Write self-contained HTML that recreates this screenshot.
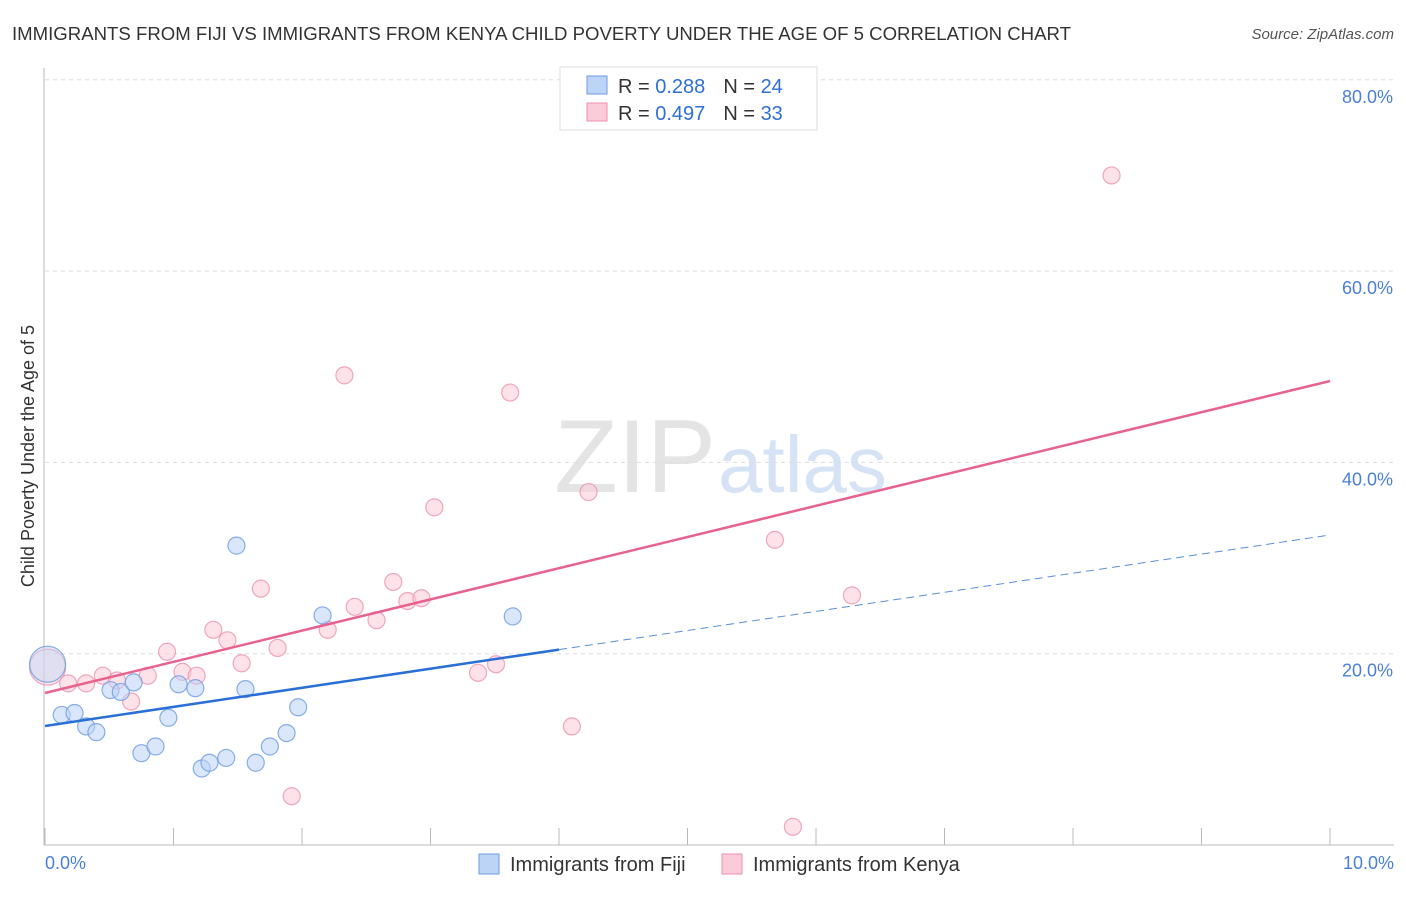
<!DOCTYPE html>
<html><head><meta charset="utf-8"><style>
body{margin:0;background:#fff;font-family:"Liberation Sans",sans-serif;}
svg text{font-family:"Liberation Sans",sans-serif;}
</style></head><body>
<svg id="c" width="1406" height="892" xmlns="http://www.w3.org/2000/svg">
<text x="12" y="40" font-size="18.6" fill="#333">IMMIGRANTS FROM FIJI VS IMMIGRANTS FROM KENYA CHILD POVERTY UNDER THE AGE OF 5 CORRELATION CHART</text>
<text x="1394" y="39" font-size="15" fill="#555" text-anchor="end" font-style="italic">Source: ZipAtlas.com</text>
<text x="716" y="492" font-size="104" fill="#e4e4e4" text-anchor="end" font-family="Liberation Serif">ZIP</text>
<text x="718" y="492" font-size="80" fill="#d6e3f5">atlas</text>
<g id="grid"></g><g id="axes"></g><g id="marks"></g>
<text transform="translate(34,456) rotate(-90)" font-size="18" fill="#333" text-anchor="middle">Child Poverty Under the Age of 5</text>
<text x="45" y="869" font-size="18" fill="#4a7fd6">0.0%</text>
<text x="1394" y="869" font-size="18" fill="#4a7fd6" text-anchor="end">10.0%</text>
<g>
<rect x="560" y="67" width="257" height="63" fill="#fff" stroke="#ddd"/>
<rect x="587" y="76" width="20" height="18" fill="#bcd4f6" stroke="#6d9be0"/>
<rect x="587" y="103" width="20" height="18" fill="#fbcbd9" stroke="#ec92ae"/>
<text x="618" y="93" font-size="20" fill="#333">R = <tspan fill="#2f6fd6">0.288</tspan><tspan dx="18">N = </tspan><tspan fill="#2f6fd6">24</tspan></text>
<text x="618" y="120" font-size="20" fill="#333">R = <tspan fill="#2f6fd6">0.497</tspan><tspan dx="18">N = </tspan><tspan fill="#2f6fd6">33</tspan></text>
</g>
<g>
<rect x="479" y="854" width="20" height="20" fill="#bcd4f6" stroke="#6d9be0"/>
<text x="510" y="871" font-size="20" fill="#333">Immigrants from Fiji</text>
<rect x="722" y="854" width="20" height="20" fill="#fbcbd9" stroke="#ec92ae"/>
<text x="753" y="871" font-size="20" fill="#333">Immigrants from Kenya</text>
</g>
</svg>
<script>
const yTicks=[20,40,60,80];
const yTickLabels=["20.0%","40.0%","60.0%","80.0%"];
const xTicks=[0,1,2,3,4,5,6,7,8,9,10];
const fijiX=[0.02,0.13,0.23,0.32,0.40,0.51,0.59,0.69,0.75,0.86,0.96,1.04,1.17,1.22,1.28,1.41,1.49,1.56,1.64,1.75,1.88,1.97,2.16,3.64];
const fijiY=[18.9,13.6,13.8,12.4,11.8,16.2,16.0,17.0,9.6,10.3,13.3,16.8,16.4,8.0,8.6,9.1,31.3,16.3,8.6,10.3,11.7,14.4,24.0,23.9];
const kenyaX=[0.02,0.18,0.32,0.45,0.56,0.67,0.80,0.95,1.07,1.18,1.31,1.42,1.53,1.68,1.81,1.92,2.20,2.33,2.41,2.58,2.71,2.82,2.93,3.03,3.37,3.51,3.62,4.10,4.23,5.68,5.82,6.28,8.30];
const kenyaY=[18.6,16.9,16.9,17.7,17.2,15.0,17.7,20.2,18.1,17.7,22.5,21.4,19.0,26.8,20.6,5.1,22.5,49.1,24.9,23.5,27.5,25.5,25.8,35.3,18.0,18.9,47.3,12.4,36.9,31.9,1.9,26.1,70.0];
const fijiTrend=[12.44,32.41];
const kenyaTrend=[15.89,48.51];
const fijiSolidEnd=4.0;
const sx=v=>45+v*128.5, sy=v=>845-v*9.565;
const NS="http://www.w3.org/2000/svg";
function mk(t,a,p){const e=document.createElementNS(NS,t);for(const k in a)e.setAttribute(k,a[k]);p.appendChild(e);return e;}
const grid=document.getElementById('grid'),axes=document.getElementById('axes'),marks=document.getElementById('marks');
yTicks.forEach((v,i)=>{
 const l=mk('line',{x1:45,x2:1394,y1:sy(v),y2:sy(v),stroke:'#ddd','stroke-dasharray':'4,4'},grid);
 
 
 const t=mk('text',{x:1393,y:sy(v)+23,'font-size':18,fill:'#4a7fd6','text-anchor':'end'},grid);
 t.textContent=yTickLabels[i];
 
 
});
const ya=mk('line',{x1:44,x2:44,y1:68,y2:845,stroke:'#bbb'},axes);


const xa=mk('line',{x1:44,x2:1394,y1:845,y2:845,stroke:'#bbb'},axes);


xTicks.forEach(v=>{
 const t=mk('line',{x1:sx(v),x2:sx(v),y1:828,y2:845,stroke:'#bbb'},axes);
 
 
});
function pts(X,Y,fill,stroke,name){
 X.forEach((x,i)=>{
  const r=i===0?18:8.5;
  const c=mk('circle',{cx:sx(x),cy:sy(Y[i]),r:r,fill:fill,'fill-opacity':i===0?0.45:0.55,stroke:stroke,'stroke-width':1.2,'stroke-opacity':0.8},marks);
  
  
 });
}
pts(kenyaX,kenyaY,'#fbcbd9','#ec92ae','kenya-point');
pts(fijiX,fijiY,'#bcd4f6','#6d9be0','fiji-point');
const fAt=x=>fijiTrend[0]+(fijiTrend[1]-fijiTrend[0])*x/10;
const l1=mk('line',{x1:sx(0),y1:sy(fAt(0)),x2:sx(fijiSolidEnd),y2:sy(fAt(fijiSolidEnd)),stroke:'#2a6fd6','stroke-width':2.5},marks);


const l2=mk('line',{x1:sx(fijiSolidEnd),y1:sy(fAt(fijiSolidEnd)),x2:sx(10),y2:sy(fAt(10)),stroke:'#5b8ed8','stroke-width':1,'stroke-dasharray':'8,5'},marks);


const l3=mk('line',{x1:sx(0),y1:sy(kenyaTrend[0]),x2:sx(10),y2:sy(kenyaTrend[1]),stroke:'#e8628f','stroke-width':2.5},marks);


</script>
</body></html>
